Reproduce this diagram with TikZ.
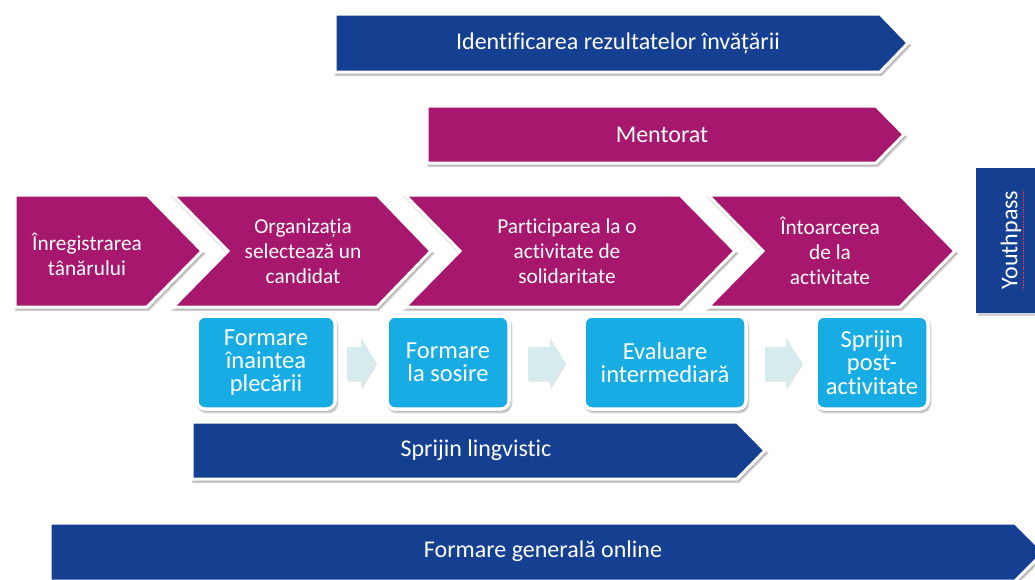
\documentclass[tikz,border=0pt]{standalone}
\usepackage{fontspec}
\setmainfont{Carlito}[Ligatures={NoCommon}]
\usetikzlibrary{shadows}
\definecolor{dblue}{RGB}{21,64,146}
\definecolor{mag}{RGB}{167,23,110}
\definecolor{lblue}{RGB}{23,173,228}
\definecolor{pale}{RGB}{214,235,238}
\begin{document}
\begin{tikzpicture}[x=1pt,y=-1pt,
  shp/.style={fill=#1, draw=white, line width=3pt, line join=miter,
    drop shadow={shadow xshift=1.5pt, shadow yshift=-2.5pt, opacity=.25, fill=black!70, draw=black!70, line width=3pt}},
  smarrow/.style={fill=pale, drop shadow={shadow xshift=1pt, shadow yshift=-1.5pt, opacity=.18, fill=black!60}},
  bx/.style={fill=lblue, draw=white, line width=3.5pt, rounded corners=8pt, inner sep=0pt,
    minimum width=#1, minimum height=93pt, text=white, align=center,
    font=\fontsize{24.5}{23.3}\selectfont,
    drop shadow={shadow xshift=1.5pt, shadow yshift=-2.5pt, opacity=.25, fill=black!70, draw=black!70, line width=3.5pt}},
  chtxt/.style={text=white, align=center, font=\fontsize{21.3}{25}\selectfont},
  bigtxt/.style={text=white, font=\fontsize{24}{29}\selectfont}]
\useasboundingbox (0,0) rectangle (1035,579);
\fill[white] (0,0) rectangle (1035,579);
\clip (0,0) rectangle (1035,579);

% top arrows
\path[shp=dblue] (335,14) -- (880,14) -- (908,43) -- (880,72) -- (335,72) -- cycle;
\node[bigtxt] (ident) at (618,43) {Identificarea rezultatelor învățării};
\path[shp=mag] (427,106) -- (876,106) -- (904,134.5) -- (876,163) -- (427,163) -- cycle;
\node[bigtxt] (ment) at (662,135) {Mentorat};

% chevrons
\path[shp=mag] (15,195) -- (147,195) -- (202,251) -- (147,307) -- (15,307) -- cycle;
\path[shp=mag] (173,195) -- (377,195) -- (431,251) -- (377,307) -- (173,307) -- (228,251) -- cycle;
\path[shp=mag] (405,195) -- (680,195) -- (735,251) -- (680,307) -- (405,307) -- (460,251) -- cycle;
\path[shp=mag] (708,195) -- (900,195) -- (955,251) -- (900,307) -- (708,307) -- (763,251) -- cycle;
\node[chtxt] (c1) at (87,254) {Înregistrarea\\tânărului};
\node[chtxt] (c2) at (303,251) {Organizația\\selectează un\\candidat};
\node[chtxt] (c3) at (567,251) {Participarea la o\\activitate de\\solidaritate};
\node[chtxt] (c4) at (830,251) {Întoarcerea\\de la\\activitate};

% Youthpass
\path[fill=dblue, drop shadow={shadow xshift=1.5pt, shadow yshift=-2.5pt, opacity=.25, fill=black!70}] (976,168) rectangle (1045,313);
\node[bigtxt, rotate=90] (yp) at (1011,240) {Youthpass};
\draw[red!80, line width=0.7pt, densely dotted] (1023,190) -- (1023,290);

% light blue boxes
\node[bx=138pt] (b1) at (266,362.5) {Formare\\înaintea\\plecării};
\node[bx=122pt] (b2) at (448,362.5) {Formare\\la sosire};
\node[bx=162pt] (b3) at (665,362.5) {Evaluare\\intermediară};
\node[bx=112pt] (b4) at (872,362.5) {Sprijin\\post-\\activitate};

% small arrows
\path[smarrow] (347,347) -- (361,347) -- (361,338) -- (376,363) -- (361,388) -- (361,380) -- (347,380) -- cycle;
\path[smarrow] (528,347) -- (550,347) -- (550,338) -- (565,363) -- (550,388) -- (550,380) -- (528,380) -- cycle;
\path[smarrow] (765,347) -- (786,347) -- (786,338) -- (802,363) -- (786,388) -- (786,380) -- (765,380) -- cycle;

% lower arrows
\path[shp=dblue] (192,422) -- (737,422) -- (765,450.5) -- (737,479) -- (192,479) -- cycle;
\node[bigtxt] (ling) at (476,450) {Sprijin lingvistic};
\path[shp=dblue] (50,523) -- (1015,523) -- (1044,552) -- (1015,581) -- (50,581) -- cycle;
\node[bigtxt] (online) at (543,551) {Formare generală online};
\end{tikzpicture}
\end{document}
